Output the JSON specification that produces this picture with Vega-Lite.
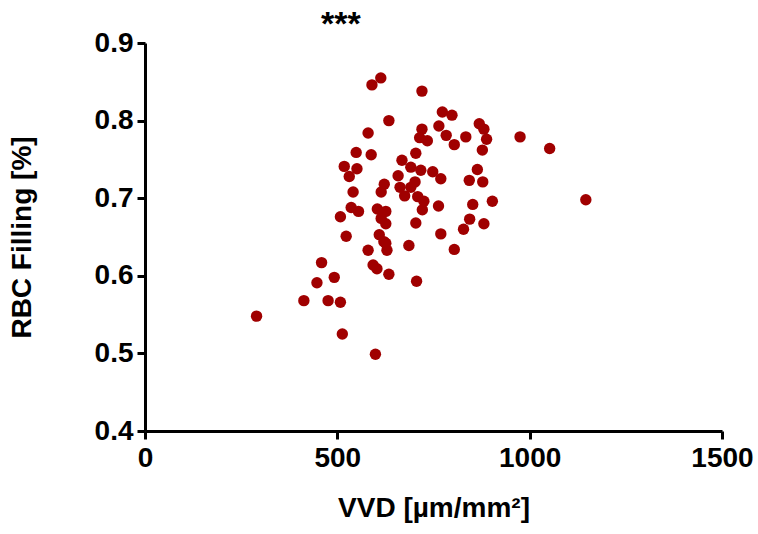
{
  "$schema": "https://vega.github.io/schema/vega-lite/v6.json",
  "autosize": {"type": "none"},
  "padding": {"left": 145, "top": 43, "right": 36, "bottom": 103},
  "width": 577,
  "height": 388,
  "background": "white",
  "title": {
    "text": "***",
    "anchor": "start",
    "frame": "group",
    "dx": 176,
    "offset": -13,
    "font": "Liberation Sans",
    "fontSize": 34,
    "fontWeight": "bold",
    "color": "black"
  },
  "config": {
    "view": {"stroke": null},
    "axis": {
      "grid": false,
      "domainColor": "black",
      "domainWidth": 3,
      "tickColor": "black",
      "tickWidth": 3,
      "tickSize": 8,
      "labelFont": "Liberation Sans",
      "labelFontWeight": "bold",
      "labelFontSize": 28,
      "labelColor": "black",
      "titleFont": "Liberation Sans",
      "titleFontWeight": "bold",
      "titleFontSize": 28,
      "titleColor": "black"
    }
  },
  "data": {
    "values": [
      {"vvd": 290, "rbc": 0.548}, {"vvd": 413, "rbc": 0.568}, {"vvd": 447, "rbc": 0.591},
      {"vvd": 459, "rbc": 0.617}, {"vvd": 476, "rbc": 0.568}, {"vvd": 492, "rbc": 0.598},
      {"vvd": 508, "rbc": 0.566}, {"vvd": 513, "rbc": 0.525}, {"vvd": 508, "rbc": 0.676},
      {"vvd": 523, "rbc": 0.651}, {"vvd": 518, "rbc": 0.741}, {"vvd": 531, "rbc": 0.728},
      {"vvd": 551, "rbc": 0.738}, {"vvd": 549, "rbc": 0.759}, {"vvd": 541, "rbc": 0.708},
      {"vvd": 536, "rbc": 0.688}, {"vvd": 555, "rbc": 0.683}, {"vvd": 580, "rbc": 0.784},
      {"vvd": 588, "rbc": 0.756}, {"vvd": 590, "rbc": 0.846}, {"vvd": 613, "rbc": 0.855},
      {"vvd": 634, "rbc": 0.800}, {"vvd": 580, "rbc": 0.633}, {"vvd": 593, "rbc": 0.614},
      {"vvd": 603, "rbc": 0.609}, {"vvd": 599, "rbc": 0.499}, {"vvd": 634, "rbc": 0.602},
      {"vvd": 609, "rbc": 0.653}, {"vvd": 604, "rbc": 0.686}, {"vvd": 614, "rbc": 0.674},
      {"vvd": 626, "rbc": 0.683}, {"vvd": 626, "rbc": 0.667}, {"vvd": 621, "rbc": 0.644},
      {"vvd": 626, "rbc": 0.642}, {"vvd": 629, "rbc": 0.633}, {"vvd": 614, "rbc": 0.708},
      {"vvd": 622, "rbc": 0.718}, {"vvd": 658, "rbc": 0.729}, {"vvd": 668, "rbc": 0.749},
      {"vvd": 663, "rbc": 0.714}, {"vvd": 675, "rbc": 0.703}, {"vvd": 691, "rbc": 0.740},
      {"vvd": 704, "rbc": 0.758}, {"vvd": 691, "rbc": 0.714}, {"vvd": 702, "rbc": 0.721},
      {"vvd": 686, "rbc": 0.639}, {"vvd": 704, "rbc": 0.668}, {"vvd": 706, "rbc": 0.593},
      {"vvd": 709, "rbc": 0.702}, {"vvd": 721, "rbc": 0.685}, {"vvd": 725, "rbc": 0.696},
      {"vvd": 717, "rbc": 0.736}, {"vvd": 720, "rbc": 0.789}, {"vvd": 714, "rbc": 0.778},
      {"vvd": 734, "rbc": 0.774}, {"vvd": 720, "rbc": 0.838}, {"vvd": 748, "rbc": 0.734},
      {"vvd": 763, "rbc": 0.690}, {"vvd": 769, "rbc": 0.725}, {"vvd": 769, "rbc": 0.654},
      {"vvd": 764, "rbc": 0.793}, {"vvd": 773, "rbc": 0.811}, {"vvd": 783, "rbc": 0.781},
      {"vvd": 798, "rbc": 0.807}, {"vvd": 804, "rbc": 0.769}, {"vvd": 804, "rbc": 0.634},
      {"vvd": 828, "rbc": 0.660}, {"vvd": 834, "rbc": 0.779}, {"vvd": 843, "rbc": 0.723},
      {"vvd": 844, "rbc": 0.673}, {"vvd": 852, "rbc": 0.692}, {"vvd": 864, "rbc": 0.737},
      {"vvd": 869, "rbc": 0.796}, {"vvd": 881, "rbc": 0.789}, {"vvd": 888, "rbc": 0.776},
      {"vvd": 877, "rbc": 0.762}, {"vvd": 878, "rbc": 0.721}, {"vvd": 881, "rbc": 0.667},
      {"vvd": 903, "rbc": 0.696}, {"vvd": 975, "rbc": 0.779}, {"vvd": 1052, "rbc": 0.764},
      {"vvd": 1146, "rbc": 0.698}
    ]
  },
  "mark": {"type": "circle", "size": 130, "color": "#a00000", "opacity": 1},
  "encoding": {
    "x": {
      "field": "vvd", "type": "quantitative",
      "scale": {"domain": [0, 1500], "nice": false, "zero": false},
      "axis": {"values": [0, 500, 1000, 1500], "format": "d", "title": "VVD [µm/mm²]", "labelPadding": 5, "titlePadding": 22, "labelFlush": false}
    },
    "y": {
      "field": "rbc", "type": "quantitative",
      "scale": {"domain": [0.4, 0.9], "nice": false, "zero": false},
      "axis": {"values": [0.4, 0.5, 0.6, 0.7, 0.8, 0.9], "format": ".1f", "title": "RBC Filling [%]", "labelPadding": 4, "titlePadding": 58, "labelFlush": false}
    }
  }
}
